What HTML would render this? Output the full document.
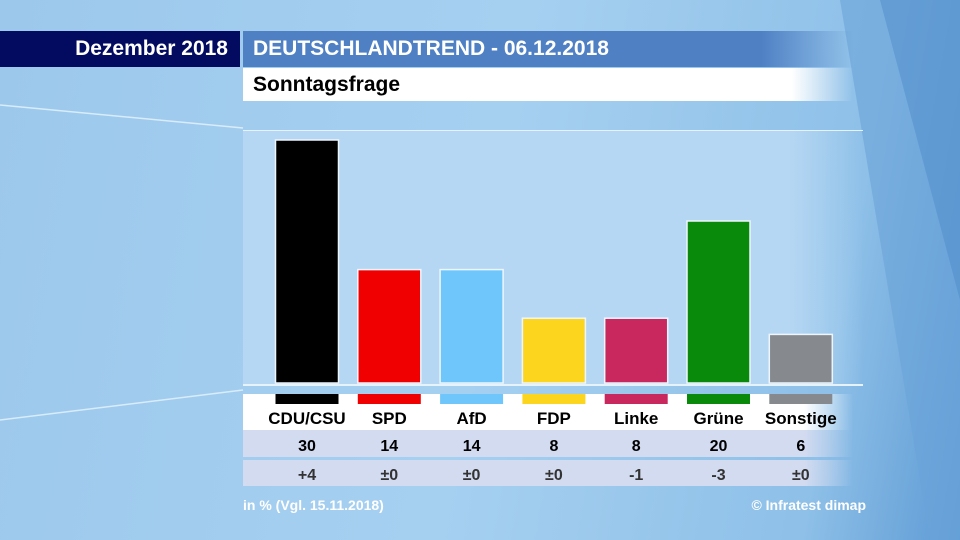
<!DOCTYPE html>
<html><head><meta charset="utf-8"><style>
body{margin:0;width:960px;height:540px;overflow:hidden;font-family:"Liberation Sans",sans-serif;}
#bg{position:absolute;left:0;top:0;width:960px;height:540px;background:linear-gradient(100deg,#9cc8ec 0%,#a6d0f0 50%,#8ec0e8 85%,#5d9ad4 100%);}
.abs{position:absolute;}
</style></head><body>
<div id="bg"></div>
<svg class="abs" style="left:0;top:0" width="960" height="540">
<polygon points="840,0 960,0 960,540 930,540" fill="#6aa3d8" opacity="0.6"/>
<polygon points="880,0 960,0 960,300" fill="#4f8cc9" opacity="0.5"/>
<line x1="0" y1="105" x2="243" y2="128" stroke="#d8ecfa" stroke-width="1.5"/>
<line x1="0" y1="420" x2="243" y2="390" stroke="#d8ecfa" stroke-width="1.5"/>
</svg>
<div class="abs" style="left:0;top:31px;width:240px;height:36px;background:#020b60;color:#fff;font-weight:bold;font-size:21px;line-height:36px;text-align:right;box-sizing:border-box;padding-right:12px">Dezember 2018</div>
<div class="abs" style="left:243px;top:31px;width:610px;height:36px;background:linear-gradient(90deg,#4f80c4 85%,rgba(79,128,196,0));color:#fff;font-weight:bold;font-size:21px;line-height:36px;padding-left:10px;box-sizing:border-box">DEUTSCHLANDTREND - 06.12.2018</div>
<div class="abs" style="left:243px;top:68px;width:610px;height:33px;background:linear-gradient(90deg,#fff 90%,rgba(255,255,255,0));color:#000;font-weight:bold;font-size:21px;line-height:33px;padding-left:10px;box-sizing:border-box">Sonntagsfrage</div>
<div class="abs" style="left:243px;top:130px;width:620px;height:253px;background:linear-gradient(90deg,#b6d7f3 88%,rgba(182,215,243,0));border-top:1px solid #e6f2fc"></div>
<div class="abs" style="left:243px;top:384px;width:620px;height:2px;background:#e6f2fc"></div>
<div class="abs" style="left:243px;top:394px;width:610px;height:36px;background:linear-gradient(90deg,#fff 92%,rgba(255,255,255,0))"></div>
<div class="abs" style="left:243px;top:430px;width:610px;height:27px;background:linear-gradient(90deg,#d3dbf0 92%,rgba(211,219,240,0))"></div>
<div class="abs" style="left:243px;top:460px;width:610px;height:26px;background:linear-gradient(90deg,#d3dbf0 92%,rgba(211,219,240,0))"></div>
<svg id="chart" class="abs" style="left:0;top:0" width="960" height="540"></svg>
<div class="abs" style="left:243px;top:497px;color:#fff;font-weight:bold;font-size:14px">in % (Vgl. 15.11.2018)</div>
<div class="abs" style="left:700px;width:166px;text-align:right;top:497px;color:#fff;font-weight:bold;font-size:14px">© Infratest dimap</div>
<script>
const parties=["CDU/CSU","SPD","AfD","FDP","Linke","Grüne","Sonstige"];
const values=[30,14,14,8,8,20,6];
const changes=["+4","±0","±0","±0","-1","-3","±0"];
const colors=["#000000","#f00000","#6ec6fa","#fcd61e","#c8285e","#0a8a0a","#868a8e"];
const ns="http://www.w3.org/2000/svg";
const svg=document.getElementById('chart');
const base=383,scale=8.1,x0=307,step=82.3,bw=63;
const x=i=>x0+i*step, y=v=>base-v*scale;
function mk(t,a){const e=document.createElementNS(ns,t);for(const k in a)e.setAttribute(k,a[k]);svg.appendChild(e);return e;}
parties.forEach((p,i)=>{
 const b=mk('rect',{x:x(i)-bw/2,y:y(values[i]),width:bw,height:base-y(values[i]),fill:colors[i],stroke:'#eef6fd','stroke-width':1.5});
 
 
 const s=mk('rect',{x:x(i)-bw/2,y:394,width:bw,height:10,fill:colors[i]});
 
 
 const t=mk('text',{x:x(i),y:424,'text-anchor':'middle','font-size':17,'font-weight':'bold',fill:'#000','font-family':'Liberation Sans'});
 t.textContent=p;
 
 
 const v=mk('text',{x:x(i),y:451,'text-anchor':'middle','font-size':16,'font-weight':'bold',fill:'#000','font-family':'Liberation Sans'});
 v.textContent=values[i];
 
 
 const c=mk('text',{x:x(i),y:480,'text-anchor':'middle','font-size':16,'font-weight':'bold',fill:'#333','font-family':'Liberation Sans'});
 c.textContent=changes[i];
 
 
});
</script>
</body></html>
